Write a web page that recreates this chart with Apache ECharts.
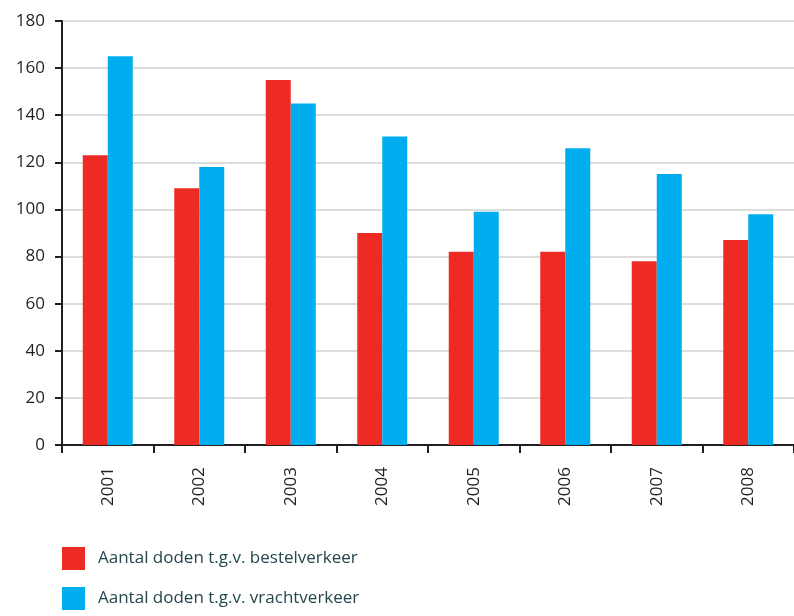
<!DOCTYPE html>
<html>
<head>
<meta charset="utf-8">
<script src="https://cdn.jsdelivr.net/npm/echarts@6/dist/echarts.min.js"></script>
<style>
  html, body { margin: 0; padding: 0; background: #fff; }
  #chart { width: 794px; height: 616px; }
</style>
</head>
<body>
<div id="chart"></div>
<script>
// jaren en waarden
var years = ['2001', '2002', '2003', '2004', '2005', '2006', '2007', '2008'];
var bestel = [123, 109, 155, 90, 82, 82, 78, 87];
var vracht = [165, 118, 145, 131, 99, 126, 115, 98];
var names = ['Aantal doden t.g.v. bestelverkeer', 'Aantal doden t.g.v. vrachtverkeer'];

var font = "'Open Sans', 'Noto Sans', sans-serif";
var chart = echarts.init(document.getElementById('chart'));

chart.setOption({
  animation: false,
  textStyle: { fontFamily: font },
  grid: { left: 62, right: 0, top: 21, bottom: 171 },
  legend: {
    orient: 'vertical',
    left: 62,
    top: 547,
    padding: 0,
    height: 69,
    icon: 'rect',
    itemWidth: 23,
    itemHeight: 23,
    itemGap: 17,
    textStyle: { fontSize: 17, color: '#24474d', fontFamily: font, padding: [0, 0, 0, 8] },
    data: names
  },
  xAxis: {
    type: 'category',
    data: years,
    axisLine: { lineStyle: { color: '#231f20', width: 2 } },
    axisTick: { show: true, length: 8, lineStyle: { color: '#231f20', width: 2 } },
    axisLabel: { rotate: 90, margin: 22, fontSize: 17, color: '#231f20' }
  },
  yAxis: {
    type: 'value',
    min: 0,
    max: 180,
    interval: 20,
    axisLine: { show: true, lineStyle: { color: '#231f20', width: 2 } },
    axisTick: { show: true, length: 7, lineStyle: { color: '#231f20', width: 2 } },
    axisLabel: { fontSize: 17, color: '#231f20', margin: 17 },
    splitLine: { lineStyle: { color: '#dddddd', width: 2 } }
  },
  series: [
    { name: names[0], type: 'bar', data: bestel, barWidth: 25, barGap: '0%', itemStyle: { color: '#ee2a24' } },
    { name: names[1], type: 'bar', data: vracht, barWidth: 25, itemStyle: { color: '#00aeef' } }
  ]
});
</script>
</body>
</html>
